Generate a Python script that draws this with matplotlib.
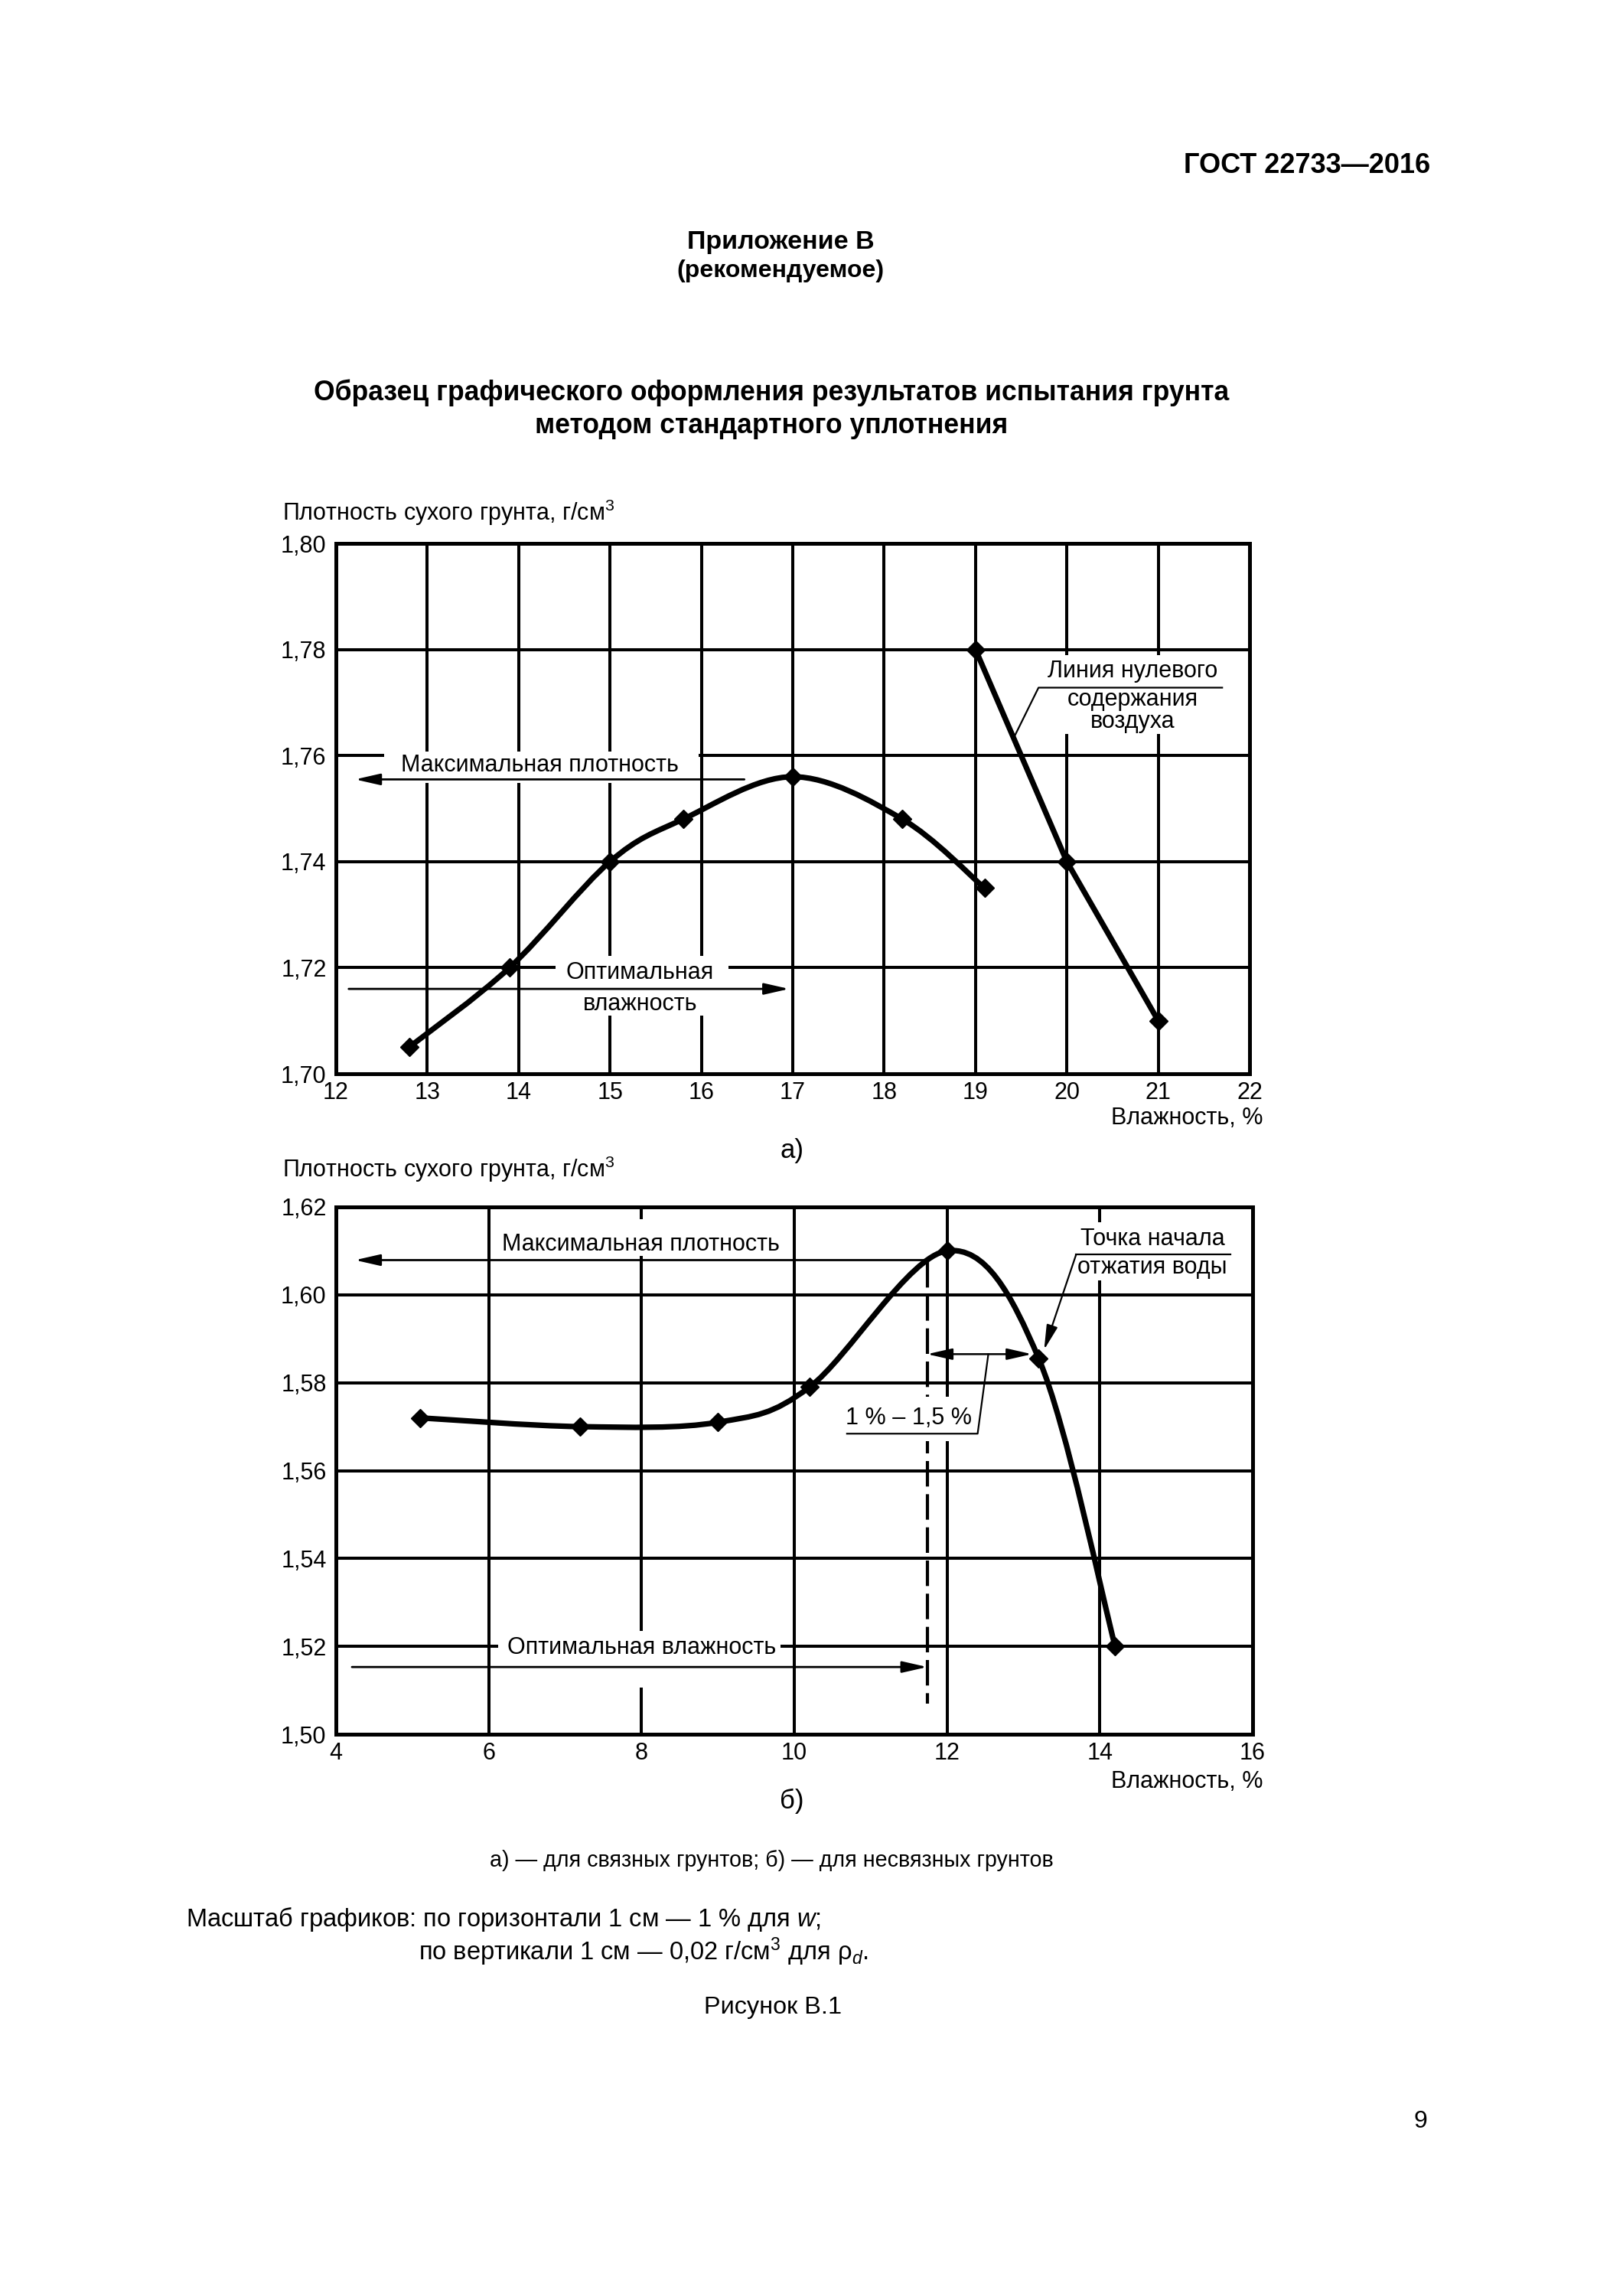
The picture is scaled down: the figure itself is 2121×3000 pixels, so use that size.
import numpy as np
import matplotlib
matplotlib.use('Agg')
import matplotlib.pyplot as plt
from matplotlib.path import Path
from matplotlib.patches import PathPatch, Rectangle

plt.rcParams['font.family'] = ['Liberation Sans', 'DejaVu Sans']
plt.rcParams['mathtext.fontset'] = 'custom'
plt.rcParams['mathtext.rm'] = 'Liberation Sans'
plt.rcParams['mathtext.it'] = 'Liberation Sans:italic'

# chart a) - cohesive soil
w_a = [12.8, 13.9, 15.0, 15.8, 17.0, 18.2, 19.1]
rho_a = [1.705, 1.720, 1.740, 1.748, 1.756, 1.748, 1.735]
# zero air voids line
w_air = [19.0, 20.0, 21.0]
rho_air = [1.780, 1.740, 1.710]
xticks_a = [12, 13, 14, 15, 16, 17, 18, 19, 20, 21, 22]
yticks_a = [1.70, 1.72, 1.74, 1.76, 1.78, 1.80]

# chart b) - non-cohesive soil
w_b = [5.1, 7.2, 9.0, 10.2, 12.0, 13.2, 14.2]
rho_b = [1.572, 1.570, 1.571, 1.579, 1.610, 1.5855, 1.520]
xticks_b = [4, 6, 8, 10, 12, 14, 16]
yticks_b = [1.50, 1.52, 1.54, 1.56, 1.58, 1.60, 1.62]
w_opt_b = 11.74

W, H = 2121, 3000
FS = 22


def px(x, y):
    """pixel position on the page -> figure fraction"""
    return x / W, 1 - y / H


def comma(v):
    return ('%.2f' % v).replace('.', ',')


def smooth_curve(ax, xs, ys, **kw):
    """draw a smooth curve through the points (catmull-rom as bezier)"""
    pts = np.column_stack([xs, ys])
    n = len(pts)
    verts = [pts[0]]
    codes = [Path.MOVETO]
    for i in range(n - 1):
        p0 = pts[max(i - 1, 0)]
        p1 = pts[i]
        p2 = pts[i + 1]
        p3 = pts[min(i + 2, n - 1)]
        verts += [p1 + (p2 - p0) / 6, p2 - (p3 - p1) / 6, p2]
        codes += [Path.CURVE4] * 3
    ax.add_patch(PathPatch(Path(verts, codes), fill=False, **kw))


def white_box(ax, x0, x1, y0, y1):
    ax.add_patch(Rectangle((x0, y0), x1 - x0, y1 - y0, facecolor='white',
                           edgecolor='none', zorder=1))


def arrow(ax, tail, tip, style='-|>', lw=2.0):
    ax.annotate('', xy=tip, xytext=tail, zorder=4,
                arrowprops=dict(arrowstyle=style + ',head_length=1.1,head_width=0.25',
                                mutation_scale=18, lw=lw, color='black',
                                shrinkA=0, shrinkB=0))


def setup_axes(ax, xticks, yticks):
    ax.set_xlim(xticks[0], xticks[-1])
    ax.set_ylim(yticks[0], yticks[-1])
    ax.set_xticks(xticks)
    ax.set_yticks(yticks)
    ax.set_xticklabels([str(t) for t in xticks])
    ax.set_yticklabels([comma(t) for t in yticks])
    ax.tick_params(length=0, labelsize=FS)
    ax.tick_params(axis='x', pad=7)
    ax.tick_params(axis='y', pad=9)
    ax.set_axisbelow(True)
    ax.grid(True, color='black', lw=2.9)
    for s in ax.spines.values():
        s.set_linewidth(3.6)


fig = plt.figure(figsize=(W / 100, H / 100), dpi=100)

# ---------------- chart a)
ax1 = fig.add_axes([439 / W, 1 - 1403 / H, 1194 / W, 693 / H])
setup_axes(ax1, xticks_a, yticks_a)
smooth_curve(ax1, w_a, rho_a, lw=5.2, color='black', zorder=3, capstyle='round')
ax1.plot(w_a, rho_a, ls='none', marker='D', ms=12.5, color='black', zorder=4)
ax1.plot(w_air, rho_air, lw=5.2, color='black', marker='D', ms=12.5, zorder=4)

white_box(ax1, 12.53, 15.97, 1.7548, 1.7607)
ax1.text(14.23, 1.7582, 'Максимальная плотность', fontsize=FS, ha='center', va='center', zorder=5)
arrow(ax1, (16.47, 1.7555), (12.21, 1.7555))

white_box(ax1, 14.4, 16.3, 1.7110, 1.7222)
ax1.text(15.33, 1.7161, 'Оптимальная\nвлажность', fontsize=FS, ha='center', va='center',
         linespacing=1.45, zorder=5)
arrow(ax1, (12.14, 1.716), (16.96, 1.716))

white_box(ax1, 19.62, 21.75, 1.7640, 1.7790)
ax1.text(20.72, 1.7759, 'Линия нулевого', fontsize=FS, ha='center', va='center', zorder=5)
ax1.text(20.72, 1.7685, 'содержания\nвоздуха', fontsize=FS, ha='center', va='center',
         linespacing=0.95, zorder=5)
ax1.plot([19.435, 19.69, 21.70], [1.7639, 1.7728, 1.7728], lw=1.6, color='black', zorder=4)

# ---------------- chart b)
ax2 = fig.add_axes([439 / W, 1 - 2266 / H, 1198 / W, 689 / H])
setup_axes(ax2, xticks_b, yticks_b)
smooth_curve(ax2, w_b, rho_b, lw=5.2, color='black', zorder=3, capstyle='round')
ax2.plot(w_b, rho_b, ls='none', marker='D', ms=12.5, color='black', zorder=4)

# dashed line sits under the white label boxes
ax2.plot([w_opt_b, w_opt_b], [1.6075, 1.507], lw=3.0, color='black', dashes=[8, 2.4], zorder=0.9)

white_box(ax2, 6.15, 9.85, 1.6088, 1.6172)
ax2.text(7.99, 1.6115, 'Максимальная плотность', fontsize=FS, ha='center', va='center', zorder=5)
arrow(ax2, (w_opt_b, 1.6079), (4.25, 1.6079))

white_box(ax2, 6.12, 9.82, 1.5106, 1.5235)
ax2.text(8.0, 1.5197, 'Оптимальная влажность', fontsize=FS, ha='center', va='center', zorder=5)
arrow(ax2, (4.21, 1.5153), (w_opt_b, 1.5153))

white_box(ax2, 10.62, 12.45, 1.5667, 1.5768)
arrow(ax2, (w_opt_b, 1.5865), (13.11, 1.5865), style='<|-|>', lw=1.8)
ax2.text(11.5, 1.5719, '1 % – 1,5 %', fontsize=FS, ha='center', va='center', zorder=5)
ax2.plot([10.69, 12.40, 12.54], [1.5684, 1.5684, 1.5865], lw=1.6, color='black', zorder=4)

white_box(ax2, 13.62, 15.75, 1.6033, 1.6165)
ax2.text(14.69, 1.6126, 'Точка начала', fontsize=FS, ha='center', va='center', zorder=5)
ax2.text(14.69, 1.6062, 'отжатия воды', fontsize=FS, ha='center', va='center', zorder=5)
ax2.plot([13.69, 15.71], [1.6092, 1.6092], lw=1.6, color='black', zorder=4)
arrow(ax2, (13.69, 1.6092), (13.27, 1.5875), lw=1.6)

# ---------------- axis titles
for y_base in [680, 1538]:
    fig.text(*px(369, y_base), 'Плотность сухого грунта, г/см$^{3}$', fontsize=FS,
             ha='left', va='baseline')
for y_x in [1461, 2328]:
    fig.text(*px(1651, y_x), 'Влажность, %', fontsize=FS, ha='right', va='center')
fig.text(*px(1035, 1503), 'а)', fontsize=FS + 3, ha='center', va='center')
fig.text(*px(1035, 2353), 'б)', fontsize=FS + 3, ha='center', va='center')

# ---------------- page text
fig.text(*px(1869, 216), 'ГОСТ 22733—2016', fontsize=26, weight='bold', ha='right', va='center')
fig.text(*px(1020, 316), 'Приложение В', fontsize=24.5, weight='bold', ha='center', va='center')
fig.text(*px(1020, 354), '(рекомендуемое)', fontsize=23, weight='bold', ha='center', va='center')
fig.text(*px(1008, 513), 'Образец графического оформления результатов испытания грунта',
         fontsize=25.6, weight='bold', ha='center', va='center')
fig.text(*px(1008, 557), 'методом стандартного уплотнения', fontsize=25.6, weight='bold',
         ha='center', va='center')

fig.text(*px(1008, 2431), 'а) — для связных грунтов; б) — для несвязных грунтов',
         fontsize=20.6, ha='center', va='center')
fig.text(*px(243, 2508), 'Масштаб графиков: по горизонтали 1 см — 1 % для $w$;',
         fontsize=23.5, ha='left', va='center')
fig.text(*px(547, 2550), 'по вертикали 1 см — 0,02 г/см$^{3}$ для ρ$_{d}$.',
         fontsize=23.5, ha='left', va='center')
fig.text(*px(1010, 2623), 'Рисунок В.1', fontsize=23.3, ha='center', va='center')
fig.text(*px(1856, 2772), '9', fontsize=23, ha='center', va='center')

fig.savefig('out.png', dpi=100)
